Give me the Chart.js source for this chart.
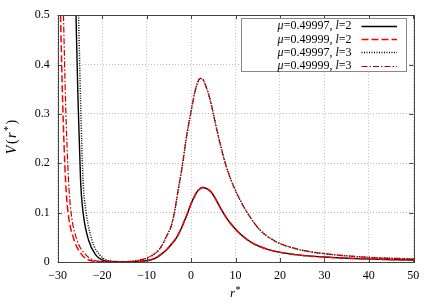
<!DOCTYPE html>
<html><head><meta charset="utf-8">
<script src="https://cdn.jsdelivr.net/npm/chart.js@4/dist/chart.umd.min.js"></script>
<style>html,body{margin:0;padding:0;background:#fff}#wrap{width:436px;height:305px}</style>
</head><body><div id="wrap"><canvas id="c" width="436" height="305"></canvas></div>
<script>
// ---- data ----
const seriesLabels = ['μ=0.49997, l=2', 'μ=0.49999, l=2', 'μ=0.49997, l=3', 'μ=0.49999, l=3'];
const xTicks = [-30, -20, -10, 0, 10, 20, 30, 40, 50];
const yTicks = [0, 0.1, 0.2, 0.3, 0.4, 0.5];

// left walls (r*, V) per series
const wallA_R = [-25.88, -25.43, -24.86, -24.3, -23.06, -21.4, -20, -18, -15];
const wallA_V = [0.5, 0.328, 0.166, 0.101, 0.0445, 0.014, 0.004, 0.001, 0.0003];
const wallB_R = [-29.37, -28.9, -28.24, -27.68, -26.3, -24.5, -23, -21, -16];
const wallB_V = [0.5, 0.328, 0.166, 0.101, 0.0445, 0.014, 0.004, 0.001, 0.0003];
const wallC_R = [-25.3, -24.86, -24.3, -23.6, -22.3, -20.5, -19, -17, -15];
const wallC_V = [0.5, 0.328, 0.166, 0.101, 0.0445, 0.014, 0.004, 0.001, 0.0006];
const wallD_R = [-28.7, -28.24, -27.57, -27.0, -25.65, -23.6, -22, -20, -16];
const wallD_V = [0.5, 0.328, 0.166, 0.101, 0.0445, 0.014, 0.004, 0.001, 0.0004];

// barrier and tail (same for both mu)
const l2R = [-12, -10.5, -9, -7.8, -6.6, -5.5, -4.5, -3.3, -2.25, -1.5, -0.75, 0, 0.6, 1.2, 1.8, 2.6, 3.4, 4.5, 5.5, 6.76, 8, 9, 10.5, 12.6, 14.5, 16.3, 18, 20.1, 23.9, 27, 31.4, 35, 38.9, 44, 50];
const l2V = [0.0008, 0.002, 0.0045, 0.009, 0.0165, 0.025, 0.035, 0.049, 0.067, 0.083, 0.1, 0.118, 0.13, 0.14, 0.147, 0.151, 0.149, 0.142, 0.128, 0.107, 0.089, 0.077, 0.062, 0.0455, 0.035, 0.0285, 0.0235, 0.0195, 0.0145, 0.0118, 0.0093, 0.0077, 0.0064, 0.0051, 0.004];
const l3R = [-14, -12, -10, -8, -6.5, -5.6, -4.5, -3.75, -3, -1.88, -1, 0, 0.8, 1.5, 2.1, 2.8, 3.5, 4.2, 4.9, 5.8, 6.76, 7.8, 9, 10, 11.2, 12.3, 13.5, 14.9, 16.3, 18, 20.1, 23.9, 27, 31.4, 35, 38.9, 44, 50];
const l3V = [0.001, 0.003, 0.008, 0.018, 0.034, 0.051, 0.072, 0.1, 0.14, 0.2, 0.255, 0.305, 0.342, 0.364, 0.372, 0.368, 0.352, 0.332, 0.305, 0.268, 0.232, 0.197, 0.166, 0.145, 0.1225, 0.105, 0.088, 0.071, 0.058, 0.047, 0.037, 0.0262, 0.0205, 0.0155, 0.0125, 0.010, 0.0078, 0.006];

function pts(r1, v1, r2, v2) {
  const out = [];
  r1.forEach((x, i) => out.push({x: x, y: v1[i]}));
  r2.forEach((x, i) => out.push({x: x, y: v2[i]}));
  return out;
}

const FONT = '"Liberation Serif", "DejaVu Serif", serif';

const styles = [
  {color: '#000000', dash: [], width: 1.4, order: 3},
  {color: '#ff0000', dash: [7, 3], width: 1.5, order: 2},
  {color: '#000000', dash: [1, 1.5], width: 1.5, order: 1},
  {color: '#c00000', dash: [6, 2, 1.5, 2], width: 1.2, order: 0}
];
const seriesData = [
  pts(wallA_R, wallA_V, l2R, l2V),
  pts(wallB_R, wallB_V, l2R, l2V),
  pts(wallC_R, wallC_V, l3R, l3V),
  pts(wallD_R, wallD_V, l3R, l3V)
];

function drawMixed(ctx, text, x, y, size, align) {
  const parts = [];
  for (const ch of text) {
    const it = (ch === 'μ' || ch === 'l');
    parts.push({ch, it});
  }
  let w = 0;
  for (const p of parts) {
    ctx.font = (p.it ? 'italic ' : '') + size + 'px ' + FONT;
    p.w = ctx.measureText(p.ch).width;
    w += p.w;
  }
  let cx = align === 'right' ? x - w : (align === 'center' ? x - w / 2 : x);
  for (const p of parts) {
    ctx.font = (p.it ? 'italic ' : '') + size + 'px ' + FONT;
    ctx.fillText(p.ch, cx, y);
    cx += p.w;
  }
}

const decor = {
  id: 'decor',
  afterDraw(chart) {
    const ctx = chart.ctx, a = chart.chartArea;
    const xs = chart.scales.x, ys = chart.scales.y;
    ctx.save();
    ctx.strokeStyle = '#444';
    ctx.lineWidth = 1;
    ctx.setLineDash([]);
    ctx.strokeRect(Math.round(a.left) + 0.5, Math.round(a.top) + 0.5, Math.round(a.right - a.left), Math.round(a.bottom - a.top));
    ctx.beginPath();
    xTicks.forEach(v => {
      const px = Math.round(xs.getPixelForValue(v)) + 0.5;
      ctx.moveTo(px, a.bottom); ctx.lineTo(px, a.bottom - 4);
      ctx.moveTo(px, a.top); ctx.lineTo(px, a.top + 4);
    });
    yTicks.forEach(v => {
      const py = Math.round(ys.getPixelForValue(v)) + 0.5;
      ctx.moveTo(a.left, py); ctx.lineTo(a.left + 4, py);
      ctx.moveTo(a.right, py); ctx.lineTo(a.right - 4, py);
    });
    ctx.stroke();

    // legend
    const bx = 241.5, by = 18.5, bw = 165, bh = 53;
    ctx.fillStyle = '#fff';
    ctx.fillRect(bx, by, bw, bh);
    ctx.strokeStyle = '#888';
    ctx.lineWidth = 1;
    ctx.strokeRect(bx, by, bw, bh);
    ctx.textBaseline = 'middle';
    seriesLabels.forEach((lab, i) => {
      const y = 25.5 + i * 13.4;
      ctx.fillStyle = '#000';
      drawMixed(ctx, lab, 351.5, y + 0.5, 12, 'right');
      ctx.strokeStyle = styles[i].color;
      ctx.lineWidth = styles[i].width;
      ctx.setLineDash(styles[i].dash);
      ctx.beginPath();
      ctx.moveTo(361.5, Math.round(y) + 0.5);
      ctx.lineTo(397, Math.round(y) + 0.5);
      ctx.stroke();
    });
    ctx.setLineDash([]);

    // axis titles
    ctx.fillStyle = '#000';
    ctx.textBaseline = 'middle';
    ctx.font = 'italic 13px ' + FONT;
    const rw = ctx.measureText('r').width;
    ctx.fillText('r', 230, 294);
    ctx.font = '10px ' + FONT;
    ctx.fillText('*', 230 + rw + 0.5, 290);
    ctx.translate(12, 137);
    ctx.rotate(-Math.PI / 2);
    const seg = [['V', 'italic 14px '], ['(', '14px '], ['r', 'italic 14px '], ['*', '10px '], [')', '14px ']];
    const gap = 1.5;
    let tw = 0;
    seg.forEach(s => { ctx.font = s[1] + FONT; s.w = ctx.measureText(s[0]).width; tw += s.w + gap; });
    tw -= gap;
    let cx = -tw / 2;
    seg.forEach(s => {
      ctx.font = s[1] + FONT;
      ctx.fillText(s[0], cx, s[0] === '*' ? -4 : 0);
      cx += s.w + gap;
    });
    ctx.restore();
  }
};

new Chart(document.getElementById('c'), {
  type: 'line',
  data: {
    datasets: seriesData.map((d, i) => ({
      label: seriesLabels[i],
      data: d,
      borderColor: styles[i].color,
      borderDash: styles[i].dash,
      borderWidth: styles[i].width,
      order: styles[i].order,
      pointRadius: 0,
      fill: false,
      cubicInterpolationMode: 'monotone'
    }))
  },
  options: {
    responsive: false,
    animation: false,
    layout: {padding: {top: 14.5, right: 22.7, left: 0, bottom: 0}},
    plugins: {legend: {display: false}, tooltip: {enabled: false}},
    scales: {
      x: {
        type: 'linear', min: -30, max: 50,
        afterFit(s) { s.height = 43; },
        afterBuildTicks(s) { s.ticks = xTicks.map(v => ({value: v})); },
        grid: {color: '#bdbdbd', lineWidth: 1, drawTicks: false},
        border: {display: false, dash: [1, 2]},
        ticks: {
          padding: 7, color: '#000', font: {family: FONT, size: 12},
          maxRotation: 0,
          callback: v => (v < 0 ? '\u2212' + Math.abs(v) : String(v))
        }
      },
      y: {
        type: 'linear', min: 0, max: 0.5,
        afterFit(s) { s.width = 57.7; },
        afterBuildTicks(s) { s.ticks = yTicks.map(v => ({value: v})); },
        grid: {color: '#bdbdbd', lineWidth: 1, drawTicks: false},
        border: {display: false, dash: [1, 2]},
        ticks: {
          padding: 8, color: '#000', font: {family: FONT, size: 12},
          callback: v => String(v)
        }
      }
    }
  },
  plugins: [decor]
});
</script>
</body></html>
